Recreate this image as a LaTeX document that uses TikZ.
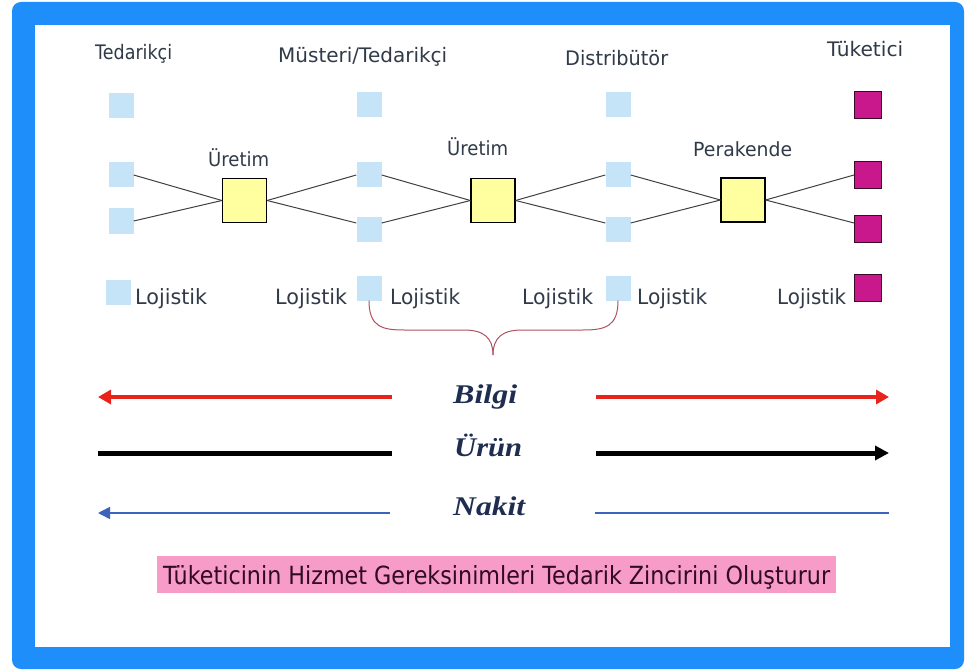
\documentclass[tikz,border=0pt]{standalone}
\usepackage{graphicx}
\usepackage{fontspec}
\setmainfont{DejaVu Sans}
\newfontfamily\flowfont{Liberation Serif}
\usetikzlibrary{arrows.meta}

\definecolor{frameblue}{RGB}{30,142,250}
\definecolor{sqblue}{RGB}{198,228,248}
\definecolor{prodyellow}{RGB}{255,255,160}
\definecolor{consmag}{RGB}{200,24,140}
\definecolor{consdark}{RGB}{58,10,40}
\definecolor{linkgray}{RGB}{64,64,64}
\definecolor{labelgray}{RGB}{48,58,72}
\definecolor{bracecol}{RGB}{176,80,96}
\definecolor{flowred}{RGB}{232,35,28}
\definecolor{flowblue}{RGB}{60,100,190}
\definecolor{flownavy}{RGB}{30,45,80}
\definecolor{bannerpink}{RGB}{247,155,201}
\definecolor{bannertext}{RGB}{50,10,35}

% stretch or squeeze a label to a given width, keeping its height
\newcommand\fitw[2]{\resizebox{#1}{\height}{#2}}

\tikzset{
  supbox/.style={fill=sqblue, draw=none, minimum size=25pt, inner sep=0},
  prodbox/.style={fill=prodyellow, draw=black, line width=1.2pt, minimum size=44pt, inner sep=0},
  consbox/.style={fill=consmag, draw=consdark, line width=1pt, minimum size=27pt, inner sep=0},
  link/.style={draw=linkgray, line width=1pt},
  headlbl/.style={font=\fontsize{20}{24}\selectfont, text=labelgray, inner sep=0, anchor=base west},
  steplbl/.style={font=\fontsize{19.5}{23}\selectfont, text=labelgray, inner sep=0, anchor=base west},
  loglbl/.style={font=\fontsize{21}{25}\selectfont, text=labelgray, inner sep=0, anchor=base west},
  flowlbl/.style={font=\flowfont\bfseries\itshape\fontsize{27}{30}\selectfont, text=flownavy, inner sep=0, anchor=base west},
  redflow/.style={draw=flowred, line width=4.5pt},
  blackflow/.style={draw=black, line width=5pt},
  blueflow/.style={draw=flowblue, line width=1.5pt},
}

\begin{document}
\begin{tikzpicture}[x=1pt,y=-1pt]
  \useasboundingbox (0,0) rectangle (966,671);
  \fill[white] (0,0) rectangle (966,671);

  % frame
  \fill[frameblue, rounded corners=9pt] (12,2) rectangle (964,669);
  \fill[white] (35,25) rectangle (950,647);

  % column headings
  \node[headlbl] (hT) at (95,60)    {\fitw{77pt}{Tedarikçi}};
  \node[headlbl] (hM) at (278,62.5) {\fitw{169pt}{Müsteri/Tedarikçi}};
  \node[headlbl] (hD) at (565,65.5) {\fitw{103pt}{Distribütör}};
  \node[headlbl] (hC) at (827,56.5) {\fitw{76pt}{Tüketici}};

  % suppliers
  \node[supbox] (t1) at (121,106) {};
  \node[supbox] (t2) at (121,175) {};
  \node[supbox] (t3) at (121,221) {};
  \node[supbox] (t4) at (118,292) {};
  % customer / supplier
  \node[supbox] (m1) at (369,105) {};
  \node[supbox] (m2) at (369,175) {};
  \node[supbox] (m3) at (369,229) {};
  \node[supbox] (m4) at (369,288) {};
  % distributor
  \node[supbox] (d1) at (618,105) {};
  \node[supbox] (d2) at (618,175) {};
  \node[supbox] (d3) at (618,229) {};
  \node[supbox] (d4) at (618,288) {};
  % consumers
  \node[consbox] (c1) at (868,105) {};
  \node[consbox] (c2) at (868,175) {};
  \node[consbox] (c3) at (868,229) {};
  \node[consbox] (c4) at (868,288) {};

  % production and retail stages
  \node[prodbox] (y1) at (244.5,200.5) {};
  \node[prodbox] (y2) at (493,200.5) {};
  \node[prodbox] (y3) at (743,200) {};
  \node[steplbl] (s1) at (208,166.5) {\fitw{61pt}{Üretim}};
  \node[steplbl] (s2) at (447,156)   {\fitw{61pt}{Üretim}};
  \node[steplbl] (s3) at (693,156.5) {\fitw{99pt}{Perakende}};

  % links
  \draw[link] (t2.east) -- (y1.west);
  \draw[link] (t3.east) -- (y1.west);
  \draw[link] (y1.east) -- (m2.west);
  \draw[link] (y1.east) -- ([yshift=6pt]m3.west);
  \draw[link] (m2.east) -- (y2.west);
  \draw[link] ([yshift=6pt]m3.east) -- (y2.west);
  \draw[link] (y2.east) -- (d2.west);
  \draw[link] (y2.east) -- ([yshift=6pt]d3.west);
  \draw[link] (d2.east) -- (y3.west);
  \draw[link] ([yshift=6pt]d3.east) -- (y3.west);
  \draw[link] (y3.east) -- (c2.west);
  \draw[link] (y3.east) -- ([yshift=6pt]c3.west);

  % logistics labels
  \node[loglbl] (l1) at (135,304) {\fitw{72pt}{Lojistik}};
  \node[loglbl] (l2) at (275,304) {\fitw{72pt}{Lojistik}};
  \node[loglbl] (l3) at (390,304) {\fitw{70pt}{Lojistik}};
  \node[loglbl] (l4) at (522,304) {\fitw{71pt}{Lojistik}};
  \node[loglbl] (l5) at (637,304) {\fitw{70pt}{Lojistik}};
  \node[loglbl] (l6) at (777,304) {\fitw{69pt}{Lojistik}};

  % brace under the middle segment
  \coordinate (braceTip) at (493,355);
  \draw[bracecol, line width=1pt]
    (m4.south) .. controls +(0,26) and +(-22,0) .. (404,330) -- (464,330)
      .. controls (484,330) and (493,338) .. (braceTip);
  \draw[bracecol, line width=1pt]
    (braceTip) .. controls (493,338) and (502,330) .. (522,330) -- (583,330)
      .. controls +(22,0) and +(0,26) .. (d4.south);

  % flows
  \node[flowlbl] (fB) at (453,403) {\fitw{64pt}{Bilgi}};
  \node[flowlbl] (fU) at (454,456) {\fitw{68pt}{Ürün}};
  \node[flowlbl] (fN) at (453,515) {\fitw{72pt}{Nakit}};

  \coordinate (bL0) at (98,397);  \coordinate (bL1) at (392,397);
  \coordinate (bR0) at (596,397); \coordinate (bR1) at (889,397);
  \draw[redflow, -{Triangle[length=13pt,width=14pt]}] (bL1) -- (bL0);
  \draw[redflow, -{Triangle[length=13pt,width=14pt]}] (bR0) -- (bR1);

  \coordinate (pL0) at (98,453);  \coordinate (pL1) at (392,453);
  \coordinate (pR0) at (596,453); \coordinate (pR1) at (889,453);
  \draw[blackflow] (pL0) -- (pL1);
  \draw[blackflow, -{Triangle[length=14pt,width=14pt]}] (pR0) -- (pR1);

  \coordinate (nL0) at (98,513);  \coordinate (nL1) at (390,513);
  \coordinate (nR0) at (595,513); \coordinate (nR1) at (889,513);
  \draw[blueflow, -{Triangle[length=12pt,width=12pt]}] (nL1) -- (nL0);
  \draw[blueflow] (nR0) -- (nR1);

  % banner
  \node[fill=bannerpink, minimum width=679pt, minimum height=37pt, inner sep=0] (banner) at (496.5,574.5) {};
  \node[font=\fontsize{25}{28}\selectfont, text=bannertext, inner sep=0, anchor=base west] (bannerText)
    at (163,584.3) {\fitw{667pt}{Tüketicinin Hizmet Gereksinimleri Tedarik Zincirini Oluşturur}};
\end{tikzpicture}
\end{document}
